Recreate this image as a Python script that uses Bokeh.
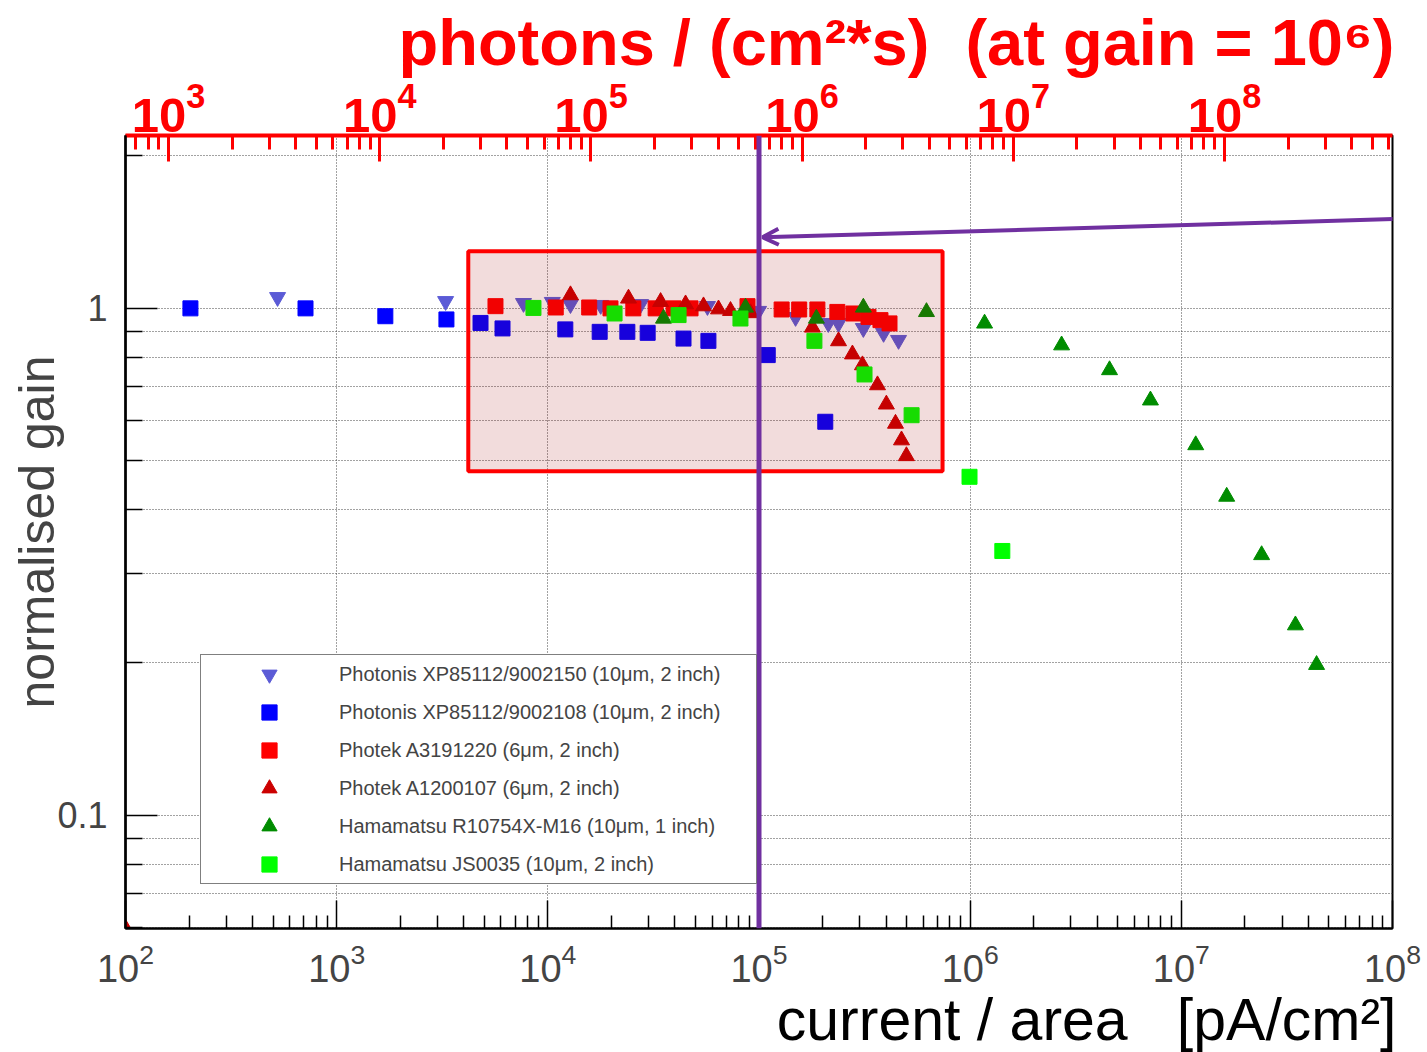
import numpy as np
from bokeh.plotting import figure
from bokeh.models import (LogAxis, Range1d, CustomJSTickFormatter, LogTickFormatter, Span, BoxAnnotation,
                          Arrow, OpenHead, Legend, LegendItem, Title, FixedTicker, LogScale)
from bokeh.embed import file_html
from bokeh.resources import INLINE

# ---------------- data ----------------
series_names = [
    "Photonis XP85112/9002150 (10μm, 2 inch)",
    "Photonis XP85112/9002108 (10μm, 2 inch)",
    "Photek A3191220 (6μm, 2 inch)",
    "Photek A1200107 (6μm, 2 inch)",
    "Hamamatsu R10754X-M16 (10μm, 1 inch)",
    "Hamamatsu JS0035 (10μm, 2 inch)",
]

xp9002150_x = [525, 3280, 7670, 10500, 12800, 17800, 27500, 57000, 99500, 149000, 213000, 238000, 312000, 389000, 458000]
xp9002150_y = [1.051, 1.032, 1.023, 1.028, 1.018, 1.014, 1.018, 1.009, 0.987, 0.960, 0.934, 0.934, 0.913, 0.893, 0.865]

xp9002108_x = [203, 712, 1700, 3310, 4800, 6100, 12100, 17600, 23800, 29700, 43900, 57600, 110000, 206000]
xp9002108_y = [0.999, 0.999, 0.964, 0.950, 0.935, 0.912, 0.908, 0.898, 0.898, 0.894, 0.871, 0.862, 0.808, 0.597]

a3191220_x = [5650, 10900, 15700, 19800, 25400, 32400, 39400, 47400, 88200, 128000, 155000, 189000, 235000, 280000, 330000, 376000, 415000]
a3191220_y = [1.009, 1.003, 1.003, 0.999, 0.999, 0.999, 0.999, 0.999, 1.009, 0.994, 0.994, 0.994, 0.983, 0.976, 0.961, 0.947, 0.933]

a1200107_x = [100, 12800, 24100, 34200, 44900, 54600, 64300, 73300, 91200, 179000, 238000, 277000, 309000, 364000, 401000, 443000, 473000, 499000]
a1200107_y = [0.0598, 1.061, 1.045, 1.029, 1.018, 1.009, 0.995, 0.988, 0.978, 0.916, 0.861, 0.811, 0.772, 0.705, 0.646, 0.592, 0.549, 0.511]

r10754_x = [35300, 86300, 187000, 312000, 621000, 1.17e6, 2.71e6, 4.57e6, 7.14e6, 1.17e7, 1.64e7, 2.40e7, 3.47e7, 4.37e7]
r10754_y = [0.954, 1.003, 0.954, 1.003, 0.983, 0.933, 0.845, 0.755, 0.658, 0.537, 0.425, 0.326, 0.237, 0.198]

js0035_x = [8550, 20700, 41600, 81700, 183000, 316000, 528000, 993000, 1.42e6]
js0035_y = [1.001, 0.976, 0.969, 0.954, 0.862, 0.740, 0.615, 0.465, 0.332]

PHOTONS_PER_PA = 6.25          # photons/(cm^2 s) per pA/cm^2 at gain 1e6
X_RANGE = (1e2, 1e8)
Y_RANGE = (0.0598, 2.19)
MARK_X = 1e5                   # vertical line
BOX = dict(left=4.2e3, right=7.4e5, bottom=0.477, top=1.295)
ARROW = dict(x_start=1.47e8, y_start=1.505, x_end=1.04e5, y_end=1.38)

FONT = "Liberation Sans"
PURPLE = "#7030a0"
NB = "\u00a0"

# ---------------- figure ----------------
p = figure(width=1427, height=1052, x_axis_type="log", y_axis_type="log",
           x_range=Range1d(*X_RANGE), y_range=Range1d(*Y_RANGE),
           output_backend="svg", toolbar_location=None, title=None,
           min_border_left=125, min_border_right=35, min_border_top=135, min_border_bottom=124,
           background_fill_color="white", border_fill_color="white")

p.outline_line_color = "black"
p.outline_line_width = 2


def log_ticks(lo, hi):
    major, minor = [], []
    for e in range(-3, 11):
        for m in range(1, 10):
            v = m * 10.0 ** e
            if lo * 0.999 <= v <= hi * 1.001:
                (major if m == 1 else minor).append(v)
    return major, minor

# bottom axis
xmaj, xmin_ = log_ticks(*X_RANGE)
xa = p.xaxis[0]
xa.ticker = FixedTicker(ticks=xmaj, minor_ticks=xmin_)
xa.formatter = LogTickFormatter()
xa.major_label_text_font = FONT
xa.major_label_text_font_size = "38px"
xa.major_label_standoff = 14
xa.major_tick_in = 28
xa.major_tick_out = 0
xa.minor_tick_in = 13
xa.minor_tick_out = 0
xa.axis_line_width = 2
xa.major_tick_line_width = 1.5
xa.minor_tick_line_width = 1.5

# left axis
ymaj, ymin_ = log_ticks(*Y_RANGE)
ya = p.yaxis[0]
ya.ticker = FixedTicker(ticks=ymaj, minor_ticks=ymin_)
ya.formatter = CustomJSTickFormatter(code="return String(Number(tick.toPrecision(3)));")
ya.major_label_text_font = FONT
ya.major_label_text_font_size = "36px"
ya.major_label_standoff = 18
ya.major_tick_in = 32
ya.major_tick_out = 0
ya.minor_tick_in = 17
ya.minor_tick_out = 0
ya.axis_line_width = 2.5
ya.major_tick_line_width = 1.5
ya.minor_tick_line_width = 1.5
ya.axis_label = "normalised gain"
ya.axis_label_text_font = FONT
ya.axis_label_text_font_size = "50px"
ya.axis_label_text_font_style = "normal"
ya.axis_label_standoff = -11

# grids
p.xgrid.ticker = xa.ticker
p.xgrid.grid_line_color = "#444444"
p.xgrid.grid_line_dash = "1 2"
p.xgrid.grid_line_width = 1
p.ygrid.ticker = ya.ticker
p.ygrid.grid_line_color = "#444444"
p.ygrid.grid_line_dash = "1 2"
p.ygrid.minor_grid_line_color = "#444444"
p.ygrid.minor_grid_line_dash = "1 2"

# top (photons) axis
ph_lo, ph_hi = X_RANGE[0] * PHOTONS_PER_PA, X_RANGE[1] * PHOTONS_PER_PA
p.extra_x_ranges = {"ph": Range1d(ph_lo, ph_hi)}
p.extra_x_scales = {"ph": LogScale()}
tmaj, tmin = log_ticks(ph_lo, ph_hi)
top = LogAxis(x_range_name="ph", ticker=FixedTicker(ticks=tmaj, minor_ticks=tmin),
              formatter=LogTickFormatter())
top.axis_line_color = "red"
top.axis_line_width = 4
top.major_tick_line_color = "red"
top.minor_tick_line_color = "red"
top.major_tick_line_width = 3
top.minor_tick_line_width = 3
top.major_tick_in = 26
top.major_tick_out = 0
top.minor_tick_in = 14
top.minor_tick_out = 0
top.major_label_text_color = "red"
top.major_label_text_font = FONT
top.major_label_text_font_style = "bold"
top.major_label_text_font_size = "49px"
top.major_label_standoff = 4
p.add_layout(top, "above")

top_title = Title(text="photons / (cm\u00b2*s)" + NB + NB + "(at gain = 10\u2076)", align="right",
                  text_color="red", text_font=FONT, text_font_style="bold",
                  text_font_size="65px", standoff=0, offset=-2)
p.add_layout(top_title, "above")

bottom_title = Title(text="current / area" + NB * 3 + "[pA/cm\u00b2]", align="right",
                     text_color="black", text_font=FONT, text_font_style="normal",
                     text_font_size="59px", standoff=0, offset=-4)
p.add_layout(bottom_title, "below")

# ---------------- data markers ----------------
specs = [
    (xp9002150_x, xp9002150_y, "inverted_triangle", "#5b5bd6", 16),
    (xp9002108_x, xp9002108_y, "square", "#0000ff", 15),
    (a3191220_x, a3191220_y, "square", "#ff0000", 15),
    (a1200107_x, a1200107_y, "triangle", "#cc0000", 16),
    (r10754_x, r10754_y, "triangle", "#008c00", 16),
    (js0035_x, js0035_y, "square", "#00ff00", 15),
]
renderers = []
for xs, ys, mk, col, sz in specs:
    r = p.scatter(xs, ys, marker=mk, size=sz, fill_color=col, line_color=col, line_width=1)
    renderers.append(r)

# ---------------- annotations ----------------
box = BoxAnnotation(fill_color="#a20505", fill_alpha=0.14, line_color="red", line_alpha=1.0,
                    line_width=4, **BOX)
p.add_layout(box)

span = Span(location=MARK_X, dimension="height", line_color=PURPLE, line_width=5)
p.add_layout(span)

arrow = Arrow(end=OpenHead(line_color=PURPLE, line_width=4, size=16),
              line_color=PURPLE, line_width=4, level="overlay", **ARROW)
p.add_layout(arrow)

legend = Legend(items=[LegendItem(label=n, renderers=[r]) for n, r in zip(series_names, renderers)],
                location=(75, 44), orientation="vertical",
                border_line_color="black", border_line_width=1,
                background_fill_color="white", background_fill_alpha=1,
                label_text_font=FONT, label_text_font_size="20px",
                glyph_width=136, glyph_height=38, label_height=38, label_width=417,
                label_standoff=2, padding=0, spacing=0, margin=0)
p.add_layout(legend, "center")

open("out.html", "w").write(file_html(p, INLINE))
